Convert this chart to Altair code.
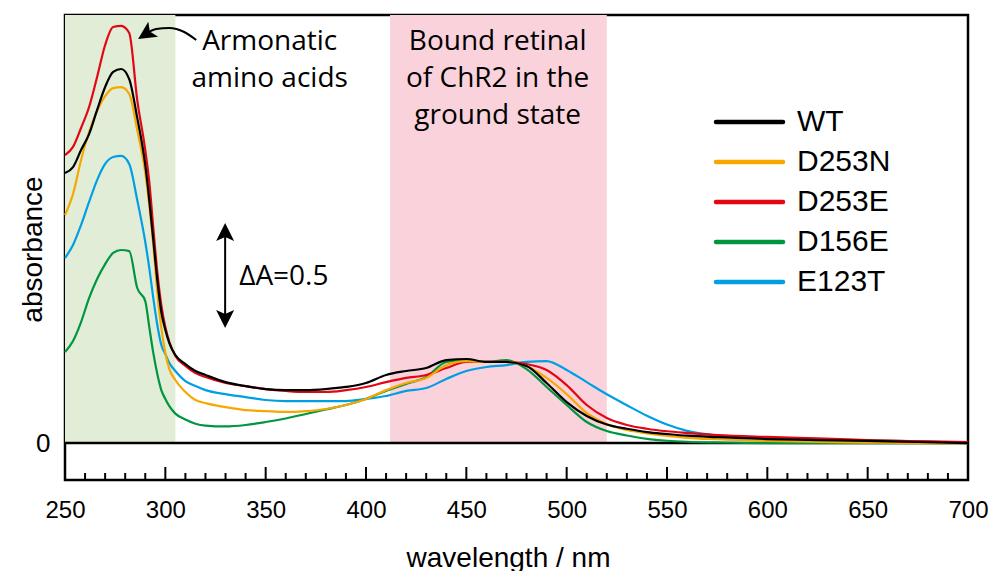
import altair as alt
import pandas as pd

# Absorption spectra of ChR2 wild type and mutants
WAVELENGTH = [250, 254, 258, 262, 266, 270, 274, 278, 282, 286,
              290, 292, 294, 296, 298, 300, 302, 305, 310, 315,
              320, 330, 340, 350, 360, 370, 380, 390, 400, 410,
              420, 430, 440, 450, 460, 470, 480, 490, 500, 510,
              520, 530, 540, 550, 560, 575, 600, 625, 650, 675,
              700]

WT = [1.286, 1.314, 1.395, 1.471, 1.586, 1.695, 1.767, 1.781, 1.733, 1.548,
      1.324, 1.157, 0.967, 0.776, 0.624, 0.538, 0.476, 0.419, 0.376, 0.343,
      0.324, 0.290, 0.271, 0.257, 0.252, 0.252, 0.257, 0.267, 0.286, 0.324,
      0.343, 0.357, 0.395, 0.400, 0.386, 0.386, 0.367, 0.286, 0.195, 0.129,
      0.088, 0.068, 0.052, 0.043, 0.035, 0.028, 0.019, 0.014, 0.010, 0.005,
      0.000]

D253N = [1.086, 1.186, 1.348, 1.481, 1.581, 1.652, 1.690, 1.695, 1.662, 1.490,
         1.286, 1.133, 0.943, 0.719, 0.548, 0.429, 0.352, 0.300, 0.243, 0.205,
         0.190, 0.171, 0.157, 0.152, 0.148, 0.152, 0.162, 0.181, 0.210, 0.252,
         0.286, 0.310, 0.371, 0.390, 0.386, 0.386, 0.367, 0.310, 0.233, 0.143,
         0.090, 0.062, 0.046, 0.034, 0.025, 0.018, 0.010, 0.005, 0.002, 0.000,
         0.000]

D253E = [1.371, 1.410, 1.500, 1.600, 1.743, 1.895, 1.981, 1.986, 1.952, 1.633,
         1.395, 1.243, 1.024, 0.814, 0.657, 0.552, 0.481, 0.414, 0.367, 0.333,
         0.314, 0.286, 0.271, 0.257, 0.248, 0.243, 0.243, 0.252, 0.267, 0.290,
         0.310, 0.324, 0.357, 0.386, 0.386, 0.386, 0.376, 0.348, 0.276, 0.181,
         0.119, 0.086, 0.068, 0.056, 0.048, 0.038, 0.029, 0.022, 0.014, 0.009,
         0.005]

D156E = [0.433, 0.486, 0.576, 0.690, 0.781, 0.852, 0.905, 0.919, 0.914, 0.738,
         0.676, 0.552, 0.429, 0.329, 0.252, 0.210, 0.176, 0.140, 0.112, 0.092,
         0.083, 0.079, 0.086, 0.100, 0.117, 0.138, 0.160, 0.181, 0.210, 0.248,
         0.281, 0.314, 0.386, 0.395, 0.386, 0.395, 0.352, 0.267, 0.181, 0.100,
         0.057, 0.036, 0.020, 0.011, 0.006, 0.003, 0.000, 0.000, 0.000, 0.000,
         0.000]

E123T = [0.881, 0.943, 1.038, 1.148, 1.252, 1.329, 1.362, 1.367, 1.329, 1.157,
         0.957, 0.833, 0.690, 0.562, 0.467, 0.424, 0.381, 0.343, 0.295, 0.271,
         0.252, 0.233, 0.219, 0.205, 0.200, 0.200, 0.200, 0.200, 0.210, 0.224,
         0.248, 0.262, 0.305, 0.343, 0.362, 0.371, 0.386, 0.390, 0.348, 0.290,
         0.232, 0.180, 0.130, 0.088, 0.058, 0.036, 0.024, 0.018, 0.013, 0.008,
         0.000]

SERIES = ["WT", "D253N", "D253E", "D156E", "E123T"]
COLORS = ["#000000", "#f6a800", "#e30613", "#009640", "#009fe3"]
VALUES = [WT, D253N, D253E, D156E, E123T]

# shaded spectral regions: aromatic residues and retinal chromophore
BAND_START = [250, 412]
BAND_END = [305, 520]
BAND_COLOR = ["#e1edd7", "#f9d2db"]

MAJOR_TICKS = [250, 300, 350, 400, 450, 500, 550, 600, 650, 700]
MINOR_TICKS = [w for w in range(260, 700, 10) if w % 50 != 0]

X_MIN, X_MAX = 250, 700
Y_MIN, Y_MAX = -0.176, 2.038

# long-form table, drawn back to front so WT ends up on top
rows = []
for name, vals in reversed(list(zip(SERIES, VALUES))):
    for w, a in zip(WAVELENGTH, vals):
        rows.append({"series": name, "wavelength": w, "absorbance": a})
spectra = pd.DataFrame(rows)

xs = alt.Scale(domain=[X_MIN, X_MAX], nice=False, zero=False)
ys = alt.Scale(domain=[Y_MIN, Y_MAX], nice=False, zero=False)
color = alt.Color("series:N", scale=alt.Scale(domain=SERIES, range=COLORS), legend=None)

AXIS_FONT = "Liberation Sans"
NOTE_FONT = "Open Sans"

bands = alt.Chart(pd.DataFrame({"start": BAND_START, "end": BAND_END, "fill": BAND_COLOR})).mark_rect().encode(
    x=alt.X("start:Q", scale=xs,
            axis=alt.Axis(values=MAJOR_TICKS, ticks=False, domain=False, grid=False,
                          labelFontSize=24, labelFont=AXIS_FONT, labelColor="black",
                          labelPadding=18, labelFlush=False, labelOverlap=False,
                          title="wavelength / nm", titleFont=AXIS_FONT, titleFontSize=28,
                          titleFontWeight="normal", titleColor="black",
                          titleX=443, titleY=86, titleBaseline="alphabetic", titleAnchor="middle")),
    x2="end:Q",
    y=alt.Y("zero:Q", scale=ys,
            axis=alt.Axis(values=[0], format="d", ticks=False, domain=False, grid=False,
                          labelFontSize=26, labelFont=AXIS_FONT, labelColor="black",
                          labelPadding=15,
                          title="absorbance", titleFont=AXIS_FONT, titleFontSize=28,
                          titleFontWeight="normal", titleColor="black",
                          titleX=-32, titleY=234, titleBaseline="middle", titleAlign="center")),
    y2=alt.value(0),
    fill=alt.Fill("fill:N", scale=None),
).transform_calculate(zero="0")

zero_line = alt.Chart(pd.DataFrame({"a": [0]})).mark_rule(color="black", strokeWidth=2.5).encode(
    y=alt.Y("a:Q", scale=ys)
)

major = alt.Chart(pd.DataFrame({"w": MAJOR_TICKS})).mark_rule(color="black", strokeWidth=2).encode(
    x=alt.X("w:Q", scale=xs), y=alt.value(452), y2=alt.value(465)
)
minor = alt.Chart(pd.DataFrame({"w": MINOR_TICKS})).mark_rule(color="black", strokeWidth=2).encode(
    x=alt.X("w:Q", scale=xs), y=alt.value(458), y2=alt.value(465)
)

lines = alt.Chart(spectra).mark_line(strokeWidth=2.2, interpolate="monotone").encode(
    x=alt.X("wavelength:Q", scale=xs),
    y=alt.Y("absorbance:Q", scale=ys),
    color=color,
    detail="series:N",
)

# legend block, one row per series
legend_df = pd.DataFrame({"series": SERIES, "rank": list(range(len(SERIES)))})
legend_base = alt.Chart(legend_df).transform_calculate(ly="107 + 40 * datum.rank")
legend_lines = legend_base.mark_rule(strokeWidth=4.5, strokeCap="round").encode(
    x=alt.value(651), x2=alt.value(718),
    y=alt.Y("ly:Q", scale=None, axis=None),
    color=color,
)
legend_text = legend_base.mark_text(align="left", baseline="middle", fontSize=30, font=AXIS_FONT, color="black").encode(
    x=alt.value(732),
    y=alt.Y("ly:Q", scale=None, axis=None),
    text="series:N",
)

# annotations
notes = pd.DataFrame({
    "wavelength": [352, 465.6],
    "absorbance": [1.871, 1.871],
    "label": ["Armonatic\namino acids", "Bound retinal\nof ChR2 in the\nground state"],
})
note_text = alt.Chart(notes).mark_text(
    align="center", baseline="alphabetic", lineBreak="\n", lineHeight=37,
    fontSize=28, font=NOTE_FONT, color="black"
).encode(x=alt.X("wavelength:Q", scale=xs), y=alt.Y("absorbance:Q", scale=ys), text="label:N")

delta_text = alt.Chart(pd.DataFrame({"wavelength": [336.8], "absorbance": [0.79], "label": ["ΔA=0.5"]})).mark_text(
    align="left", baseline="middle", fontSize=28, font=NOTE_FONT, color="black"
).encode(x=alt.X("wavelength:Q", scale=xs), y=alt.Y("absorbance:Q", scale=ys), text="label:N")

# double arrow spanning 0.5 absorbance units
ARROW_X = 329.8
ARROW_LOW, ARROW_HIGH = 0.548, 1.048
HEAD = "M0,-1L1,1L0,0.55L-1,1Z"
delta_shaft = alt.Chart(pd.DataFrame({"w": [ARROW_X], "lo": [ARROW_LOW + 0.03], "hi": [ARROW_HIGH - 0.03]})).mark_rule(
    color="black", strokeWidth=2
).encode(x=alt.X("w:Q", scale=xs), y=alt.Y("lo:Q", scale=ys), y2="hi:Q")
delta_heads = alt.Chart(pd.DataFrame({
    "w": [ARROW_X, ARROW_X],
    "a": [ARROW_HIGH - 0.043, ARROW_LOW + 0.043],
    "angle": [0, 180],
})).mark_point(shape=HEAD, filled=True, color="black", size=324, opacity=1).encode(
    x=alt.X("w:Q", scale=xs), y=alt.Y("a:Q", scale=ys), angle=alt.Angle("angle:Q", scale=None)
)

# curved pointer from the label to the 280 nm band
curve = alt.Chart(pd.DataFrame({
    "w": [290.9, 295.4, 301.9, 309.4, 315.4],
    "a": [1.952, 1.971, 1.976, 1.957, 1.919],
})).mark_line(color="black", strokeWidth=2, interpolate="monotone").encode(
    x=alt.X("w:Q", scale=xs), y=alt.Y("a:Q", scale=ys)
)
curve_head = alt.Chart(pd.DataFrame({"w": [290.2], "a": [1.947], "angle": [237]})).mark_point(
    shape=HEAD, filled=True, color="black", size=324, opacity=1
).encode(x=alt.X("w:Q", scale=xs), y=alt.Y("a:Q", scale=ys), angle=alt.Angle("angle:Q", scale=None))

chart = alt.layer(
    bands, zero_line, major, minor, lines,
    legend_lines, legend_text, note_text, delta_text,
    delta_shaft, delta_heads, curve, curve_head,
).properties(
    width=903, height=465,
    autosize=alt.AutoSizeParams(type="none"),
    padding={"left": 65, "top": 15, "right": 21, "bottom": 91},
).configure(
    background="white",
    view=alt.ViewConfig(stroke="black", strokeWidth=2.5),
)

chart.save("out.html", embed_options={"renderer": "svg", "actions": False})
